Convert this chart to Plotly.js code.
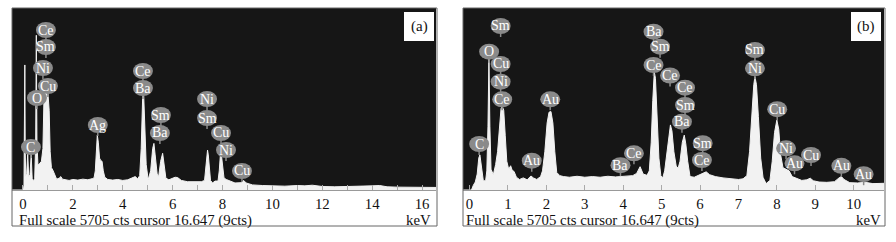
<!DOCTYPE html>
<html>
<head>
<meta charset="utf-8">
<script src="https://cdn.plot.ly/plotly-3.0.1.min.js"></script>
<style>html,body{margin:0;padding:0;background:#fff;}#chart{width:896px;height:242px;}</style>
</head>
<body>
<div id="chart"></div>
<script>
// ---------- Panel (a) spectrum: energy (keV) and counts ----------
const energyA = [-0.44,0.02,0.04,0.06,0.075,0.09,0.11,0.15,0.19,0.23,0.28,0.33,0.37,0.42,0.47,0.51,0.535,0.56,0.6,0.66,0.74,0.8,0.84,0.88,0.95,1.0,1.05,1.09,1.14,1.2,1.28,1.35,1.45,1.52,1.58,1.7,1.85,2.0,2.2,2.4,2.6,2.8,2.85,2.9,2.94,2.98,3.02,3.07,3.12,3.17,3.22,3.28,3.4,3.6,3.8,4.0,4.2,4.4,4.5,4.6,4.68,4.74,4.8,4.84,4.88,4.94,5.02,5.12,5.2,5.25,5.3,5.38,5.44,5.52,5.6,5.66,5.73,5.85,6.0,6.1,6.2,6.35,6.6,6.9,7.15,7.28,7.33,7.37,7.4,7.43,7.47,7.52,7.6,7.7,7.82,7.87,7.91,7.94,7.97,8.01,8.06,8.15,8.3,8.5,8.75,8.85,8.95,9.2,9.6,10.0,10.5,11.0,11.3,11.6,12.0,12.5,13.0,13.5,14.0,14.3,14.6,15.0,15.5,16.0,16.56];
const countsA = [0,0,150,1500,3920,1200,450,520,1150,420,480,1100,350,300,350,1500,4850,1500,780,820,900,1300,2800,3150,3200,3050,2500,1200,700,620,450,340,370,420,340,320,300,330,310,340,320,360,380,600,1300,1720,1500,1000,920,900,600,400,330,310,330,300,320,380,420,350,450,1300,2950,2980,2200,800,320,600,1300,1460,1100,500,420,900,1150,800,370,320,360,400,390,300,260,250,260,300,700,1150,1250,1100,650,300,220,280,280,600,1050,1140,1000,600,380,330,280,220,230,300,220,160,140,130,120,140,130,150,110,100,110,100,130,140,100,90,90,80,80];

// ---------- Panel (b) spectrum ----------
const energyB = [-0.17,0.05,0.1,0.15,0.2,0.24,0.27,0.31,0.36,0.42,0.45,0.48,0.505,0.53,0.56,0.62,0.68,0.73,0.78,0.82,0.85,0.89,0.93,0.97,1.02,1.07,1.11,1.16,1.22,1.3,1.4,1.5,1.6,1.66,1.75,1.85,1.9,1.96,2.02,2.07,2.12,2.17,2.22,2.27,2.35,2.45,2.6,2.8,3.0,3.2,3.4,3.6,3.8,3.95,4.1,4.25,4.35,4.44,4.52,4.62,4.68,4.73,4.77,4.81,4.84,4.88,4.93,4.98,5.03,5.08,5.14,5.19,5.23,5.27,5.32,5.38,5.43,5.48,5.54,5.59,5.63,5.68,5.74,5.85,5.95,6.05,6.16,6.25,6.4,6.6,6.8,7.0,7.12,7.22,7.29,7.35,7.4,7.43,7.47,7.52,7.58,7.64,7.72,7.82,7.88,7.94,8.0,8.05,8.1,8.16,8.25,8.32,8.4,8.5,8.65,8.78,8.87,8.95,9.1,9.3,9.5,9.62,9.68,9.75,9.9,10.1,10.3,10.5,10.79];
const countsB = [0,0,150,250,500,1000,1100,700,280,300,600,2000,4140,2000,650,480,800,1200,2000,2550,2630,2500,1700,900,650,760,620,580,400,330,380,320,440,380,330,420,600,1200,2100,2440,2460,2100,1200,550,450,420,400,430,400,420,400,430,410,430,450,450,520,730,500,460,600,1500,2800,3700,3500,2400,1000,450,380,600,1200,1800,2040,1850,1200,750,680,900,1500,1720,1450,900,420,400,450,500,570,480,420,380,360,330,350,450,1200,2400,3300,3550,3300,2300,1000,400,200,300,900,1800,2190,1900,1100,700,640,600,420,370,300,320,370,290,250,240,260,380,420,330,230,220,240,200,210];

// ---------- Element labels ----------
const labelTextA = ["Ce","Sm","Ni","Cu","O","C","Ag","Ce","Ba","Sm","Ba","Ni","Sm","Cu","Ni","Cu"];
const labelEA    = [0.92,0.92,0.80,1.00,0.56,0.32,3.00,4.81,4.81,5.53,5.49,7.38,7.38,7.94,8.14,8.78];
const labelCA    = [5015,4483,3824,3260,2884,1348,2037,3730,3197,2351,1787,2852,2257,1787,1254,596];

const labelTextB = ["Sm","O","Cu","Ni","Ce","C","Au","Au","Ba","Ce","Ba","Sm","Ce","Ce","Ce","Sm","Ba","Sm","Ce","Sm","Ni","Cu","Ni","Au","Cu","Au","Au"];
const labelEB    = [0.81,0.51,0.81,0.81,0.85,0.25,2.10,1.62,3.93,4.28,4.79,4.96,4.79,5.22,5.61,5.61,5.53,6.07,6.05,7.43,7.43,8.01,8.24,8.46,8.89,9.68,10.26];
const labelCB    = [5141,4335,3950,3395,2843,1442,2843,918,777,1150,4962,4492,3918,3589,3207,2664,2141,1467,940,4389,3815,2533,1307,837,1097,759,495];

const tickLabelsA = ["0","2","4","6","8","10","12","14","16"];
const tickValsA = [0,2,4,6,8,10,12,14,16];
const tickLabelsB = ["0","1","2","3","4","5","6","7","8","9","10"];
const tickValsB = [0,1,2,3,4,5,6,7,8,9,10];

const fullScale = 5705;
const footerText = "Full scale 5705 cts cursor 16.647 (9cts)";

const W = 896, H = 242;
const serif = "Liberation Serif";
const px = v => v / W;
const py = v => (H - v) / H;

const traces = [
  {x: energyA, y: countsA, xaxis: 'x', yaxis: 'y', type: 'scatter', mode: 'lines',
   line: {color: '#f2f2f2', width: 1}, fill: 'tozeroy', fillcolor: '#f2f2f2', hoverinfo: 'skip'},
  {x: energyB, y: countsB, xaxis: 'x2', yaxis: 'y2', type: 'scatter', mode: 'lines',
   line: {color: '#f2f2f2', width: 1}, fill: 'tozeroy', fillcolor: '#f2f2f2', hoverinfo: 'skip'}
];

const shapes = [];
const annotations = [];
const labelColor = '#8a8a8a';

function addLabels(texts, es, cs, xr, yr) {
  for (let i = 0; i < texts.length; i++) {
    shapes.push({type: 'line', xref: xr, yref: yr, xsizemode: 'pixel', ysizemode: 'pixel',
      xanchor: es[i], yanchor: cs[i], x0: 0, x1: 0, y0: -5, y1: -11,
      line: {color: labelColor, width: 1.5}, layer: 'above'});
    shapes.push({type: 'circle', xref: xr, yref: yr, xsizemode: 'pixel', ysizemode: 'pixel',
      xanchor: es[i], yanchor: cs[i], x0: -10, x1: 10, y0: -8, y1: 8,
      fillcolor: labelColor, line: {width: 0}, layer: 'above'});
    annotations.push({x: es[i], y: cs[i], xref: xr, yref: yr, text: texts[i], showarrow: false,
      font: {family: serif, size: 14, color: '#ffffff'}, xanchor: 'center', yanchor: 'middle'});
  }
}
addLabels(labelTextA, labelEA, labelCA, 'x', 'y');
addLabels(labelTextB, labelEB, labelCB, 'x2', 'y2');

// panel frames and letter boxes
const panels = [
  {x0: 12, x1: 437, letter: '(a)', bx0: 404, bx1: 434, textL: 17, keVR: 433},
  {x0: 463, x1: 885, letter: '(b)', bx0: 851, bx1: 881, textL: 464, keVR: 883}
];
panels.forEach(p => {
  shapes.push({type: 'rect', xref: 'paper', yref: 'paper', x0: px(p.x0), x1: px(p.x1), y0: py(226), y1: py(8),
    line: {color: '#666', width: 1}, fillcolor: 'rgba(0,0,0,0)', layer: 'above'});
  shapes.push({type: 'rect', xref: 'paper', yref: 'paper', x0: px(p.bx0), x1: px(p.bx1), y0: py(41), y1: py(12),
    line: {width: 0}, fillcolor: '#ffffff', layer: 'above'});
  annotations.push({xref: 'paper', yref: 'paper', x: px((p.bx0 + p.bx1) / 2), y: py(26.5), text: p.letter,
    showarrow: false, xanchor: 'center', yanchor: 'middle', font: {family: serif, size: 15, color: '#111'}});
  annotations.push({xref: 'paper', yref: 'paper', x: px(p.textL), y: py(220), text: footerText,
    showarrow: false, xanchor: 'left', yanchor: 'middle', font: {family: serif, size: 14.8, color: '#111'}});
  annotations.push({xref: 'paper', yref: 'paper', x: px(p.keVR), y: py(220), text: 'keV',
    showarrow: false, xanchor: 'right', yanchor: 'middle', font: {family: serif, size: 14.8, color: '#111'}});
});

const xCommon = {
  showgrid: false, zeroline: false, ticks: 'inside', ticklen: 5, tickwidth: 1, tickcolor: '#aaaaaa',
  showline: true, linecolor: '#999999', linewidth: 1,
  tickfont: {family: serif, size: 14.8, color: '#111'}, fixedrange: true, anchor: 'y'
};
const yCommon = {showgrid: false, zeroline: false, showticklabels: false, ticks: '', range: [0, fullScale],
  fixedrange: true, domain: [py(190), py(8)]};

const layout = {
  width: W, height: H, margin: {l: 0, r: 0, t: 0, b: 0},
  paper_bgcolor: '#ffffff', plot_bgcolor: '#161616', showlegend: false,
  font: {family: serif},
  xaxis: Object.assign({}, xCommon, {domain: [px(12), px(436)], range: [-0.44, 16.56],
    tickmode: 'array', tickvals: tickValsA, ticktext: tickLabelsA,
    minor: {dtick: 1, tick0: 0, ticks: 'inside', ticklen: 5, tickcolor: '#aaaaaa', showgrid: false}}),
  yaxis: Object.assign({}, yCommon, {anchor: 'x'}),
  xaxis2: Object.assign({}, xCommon, {domain: [px(463), px(884)], range: [-0.17, 10.79], anchor: 'y2',
    tickmode: 'array', tickvals: tickValsB, ticktext: tickLabelsB}),
  yaxis2: Object.assign({}, yCommon, {anchor: 'x2'}),
  shapes: shapes, annotations: annotations
};

Plotly.newPlot('chart', traces, layout, {staticPlot: true, displayModeBar: false});
</script>
</body>
</html>
